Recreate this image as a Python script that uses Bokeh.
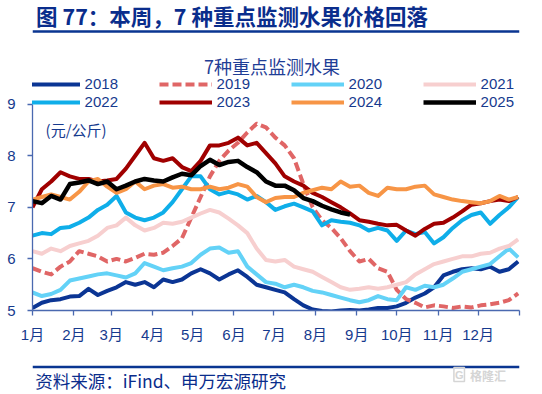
from bokeh.plotting import figure
from bokeh.layouts import column
from bokeh.models import Range1d, FixedTicker, Legend, LegendItem, Label, Span
from bokeh.embed import file_html
from bokeh.resources import INLINE

# ---------------- data (weekly readings, yuan / kg) ----------------
week_days = list(range(0, 365, 7))          # day of year for each reading

y2018 = [5.05, 5.15, 5.2, 5.22, 5.27, 5.28, 5.42, 5.3, 5.38, 5.45, 5.55, 5.5, 5.55, 5.45,
         5.6, 5.55, 5.6, 5.72, 5.8, 5.72, 5.6, 5.7, 5.78, 5.65, 5.5, 5.45, 5.4, 5.35, 5.22,
         5.1, 5.02, 4.99, 4.98, 5.0, 5.01, 5.0, 5.02, 5.05, 5.05, 5.08, 5.15, 5.25, 5.33,
         5.45, 5.68, 5.75, 5.8, 5.82, 5.8, 5.85, 5.75, 5.8, 5.95]
y2019 = [5.82, 5.75, 5.7, 5.85, 5.95, 6.15, 6.1, 6.05, 5.95, 6.0, 5.95, 6.02, 6.1, 6.08,
         6.12, 6.25, 6.4, 6.8, 7.2, 7.6, 7.9, 8.1, 8.25, 8.45, 8.62, 8.55, 8.35, 8.2, 7.95,
         7.45, 7.0, 6.75, 6.6, 6.4, 6.15, 5.95, 6.0, 5.82, 5.75, 5.4, 5.22, 5.15, 5.06, 5.1,
         5.08, 5.05, 5.08, 5.06, 5.1, 5.12, 5.15, 5.2, 5.33]
y2020 = [5.35, 5.28, 5.32, 5.4, 5.58, 5.62, 5.66, 5.7, 5.72, 5.68, 5.64, 5.72, 5.92, 5.85,
         5.78, 5.82, 5.85, 5.92, 6.08, 6.2, 6.22, 6.12, 6.15, 5.85, 5.7, 5.55, 5.52, 5.45,
         5.5, 5.45, 5.38, 5.35, 5.3, 5.25, 5.2, 5.16, 5.2, 5.28, 5.22, 5.2, 5.45, 5.4, 5.48,
         5.45, 5.5, 5.62, 5.75, 5.8, 5.85, 5.9, 6.05, 6.2, 6.03]
y2021 = [6.15, 6.1, 6.2, 6.15, 6.25, 6.3, 6.35, 6.45, 6.6, 6.65, 6.8, 6.65, 6.55, 6.6,
         6.7, 6.68, 6.72, 6.8, 6.88, 6.95, 6.9, 6.78, 6.65, 6.5, 6.2, 5.98, 5.95, 5.98, 5.85,
         5.8, 5.75, 5.65, 5.55, 5.45, 5.4, 5.42, 5.45, 5.42, 5.45, 5.5, 5.55, 5.7, 5.8, 5.9,
         5.95, 6.0, 6.05, 6.05, 6.1, 6.12, 6.2, 6.25, 6.38]
y2022 = [6.45, 6.5, 6.48, 6.6, 6.62, 6.7, 6.8, 6.95, 7.05, 7.22, 6.9, 6.8, 6.75, 6.8,
         6.9, 7.1, 7.35, 7.6, 7.6, 7.35, 7.25, 7.3, 7.25, 7.15, 7.22, 7.1, 6.95, 7.02, 7.07,
         7.0, 6.92, 6.65, 6.75, 6.72, 6.7, 6.65, 6.55, 6.6, 6.55, 6.35, 6.55, 6.48, 6.52,
         6.3, 6.42, 6.6, 6.75, 6.85, 6.9, 6.68, 6.85, 7.0, 7.2]
y2023 = [7.0, 7.35, 7.5, 7.68, 7.6, 7.55, 7.55, 7.5, 7.52, 7.55, 7.75, 8.0, 8.25, 7.95,
         7.9, 7.95, 7.78, 7.7, 7.9, 8.2, 8.2, 8.25, 8.35, 8.2, 8.25, 8.05, 7.85, 7.6, 7.5,
         7.42, 7.28, 7.2, 7.1, 7.0, 6.88, 6.75, 6.72, 6.68, 6.65, 6.66, 6.55, 6.45, 6.58,
         6.68, 6.7, 6.8, 6.92, 7.05, 7.08, 7.12, 7.15, 7.12, 7.2]
y2024 = [7.15, 7.2, 7.25, 7.2, 7.15, 7.3, 7.5, 7.55, 7.4, 7.28, 7.35, 7.5, 7.35, 7.42,
         7.45, 7.38, 7.4, 7.35, 7.35, 7.4, 7.35, 7.38, 7.45, 7.4, 7.2, 7.1, 7.18, 7.2, 7.2,
         7.28, 7.33, 7.38, 7.35, 7.5, 7.4, 7.42, 7.28, 7.22, 7.38, 7.35, 7.35, 7.4, 7.42,
         7.25, 7.2, 7.15, 7.12, 7.1, 7.08, 7.12, 7.22, 7.15, 7.2]
y2025 = [7.12, 7.08, 7.22, 7.15, 7.45, 7.48, 7.52, 7.45, 7.5, 7.35, 7.42, 7.5, 7.55, 7.52,
         7.5, 7.58, 7.65, 7.62, 7.8, 7.92, 7.82, 7.88, 7.9, 7.78, 7.68, 7.5, 7.42, 7.42,
         7.33, 7.18, 7.12, 7.03, 6.96, 6.9, 6.86]

years = ["2018", "2019", "2020", "2021", "2022", "2023", "2024", "2025"]
series = [y2018, y2019, y2020, y2021, y2022, y2023, y2024, y2025]
colors = ["#0B3594", "#E06666", "#63D2F7", "#F7CFCF", "#0FAEE9", "#A00000", "#F79546", "#000000"]
dashes = ["solid", "9 4", "solid", "solid", "solid", "solid", "solid", "solid"]
widths = [4, 4, 4, 4, 4, 4, 4, 4.5]

month_ticks = [0, 31, 59, 90, 120, 151, 181, 212, 243, 273, 304, 334, 365]
month_labels = ["1月", "2月", "3月", "4月", "5月", "6月", "7月", "8月", "9月", "10月",
                "11月", "12月", ""]
y_ticks = [5, 6, 7, 8, 9]

title_text = "图 77：本周，7 种重点监测水果价格回落"
chart_title = "7种重点监测水果"
unit_text = "(元/公斤)"
source_text = "资料来源：iFind、申万宏源研究"

NAVY = "#0A2D8C"
TEXT_BLUE = "#163A8E"
AXIS_BLUE = "#4A69B0"
LATIN = "Liberation Sans, Noto Sans CJK SC"
CJK = "Noto Sans CJK SC"
W = 542

# ---------------- top title strip ----------------
top = figure(width=W, height=34, x_range=Range1d(0, W), y_range=Range1d(34, 0),
             x_axis_type=None, y_axis_type=None, toolbar_location=None,
             output_backend="svg", min_border=0)
top.grid.visible = False
top.outline_line_color = None
top.add_layout(Label(x=4, y=15, text=title_text, text_font=CJK, text_font_style="bold",
                     text_font_size="21.5px", text_color=NAVY, text_baseline="middle",
                     text_align="left"))
top.add_layout(Span(location=31, dimension="width", line_color="#0A3591", line_width=2.5))

# ---------------- main chart ----------------
p = figure(width=W, height=324, x_range=Range1d(0, 365), y_range=Range1d(5, 10.349),
           toolbar_location=None, output_backend="svg",
           min_border_left=32, min_border_right=23, min_border_top=0, min_border_bottom=48)
p.grid.visible = False
p.outline_line_color = None

renderers = []
for yr, vals, col, dsh, lw in zip(years, series, colors, dashes, widths):
    r = p.line(week_days[:len(vals)], vals, line_color=col, line_width=lw,
               line_dash=dsh, line_join="round")
    renderers.append(r)

for ax in (p.xaxis[0], p.yaxis[0]):
    ax.axis_line_color = AXIS_BLUE
    ax.axis_line_width = 1.3
    ax.major_tick_line_color = AXIS_BLUE
    ax.major_tick_line_width = 1.3
    ax.major_tick_in = 0
    ax.major_tick_out = 5
    ax.minor_tick_line_color = None
    ax.major_label_text_color = TEXT_BLUE
    ax.major_label_text_font = LATIN
    ax.major_label_text_font_size = "15px"

p.xaxis.major_label_standoff = 10
p.yaxis.major_label_standoff = 12
p.xaxis.ticker = FixedTicker(ticks=month_ticks)
p.xaxis.major_label_overrides = {t: lab for t, lab in zip(month_ticks, month_labels)}
p.yaxis.ticker = FixedTicker(ticks=y_ticks)
p.yaxis.bounds = (5, 9)

legend = Legend(items=[LegendItem(label=yr, renderers=[r]) for yr, r in zip(years, renderers)],
                orientation="horizontal", ncols=4, location=(-5.4, 200),
                glyph_width=53, glyph_height=16, label_width=73, label_height=16,
                label_standoff=5, spacing=1, padding=0, margin=0,
                border_line_color=None, background_fill_alpha=0,
                label_text_font=LATIN, label_text_font_size="15px",
                label_text_color=TEXT_BLUE)
p.add_layout(legend)

p.add_layout(Label(x=179.5, y=9.74, text=chart_title, text_font=CJK, text_font_size="18px",
                   text_color="#1F3E96", text_align="center", text_baseline="middle"))
p.add_layout(Label(x=9.8, y=8.51, text=unit_text, text_font=CJK, text_font_size="15px",
                   text_color=TEXT_BLUE, text_align="left", text_baseline="middle"))

# ---------------- source strip ----------------
bot = figure(width=W, height=36, x_range=Range1d(0, W), y_range=Range1d(36, 0),
             x_axis_type=None, y_axis_type=None, toolbar_location=None,
             output_backend="svg", min_border=0)
bot.grid.visible = False
bot.outline_line_color = None
bot.add_layout(Span(location=8.5, dimension="width", line_color="#0A3591", line_width=2.5))
bot.add_layout(Label(x=3, y=22, text=source_text, text_font=CJK, text_font_size="17.5px",
                     text_color=NAVY, text_baseline="middle", text_align="left"))
bot.add_layout(Label(x=487, y=16.5, text="格隆汇", text_font=CJK, text_font_style="bold",
                     text_font_size="12px", text_color="#D5D5D5", text_baseline="middle",
                     text_align="left"))
bot.add_layout(Label(x=469, y=16, text="G", text_font=LATIN, text_font_style="bold",
                     text_font_size="11px", text_color="#D5D5D5", text_baseline="middle",
                     text_align="left", border_line_color="#D5D5D5", border_line_width=1.5,
                     padding=1))

layout = column(top, p, bot, spacing=0)
open("out.html", "w").write(file_html(layout, INLINE))
